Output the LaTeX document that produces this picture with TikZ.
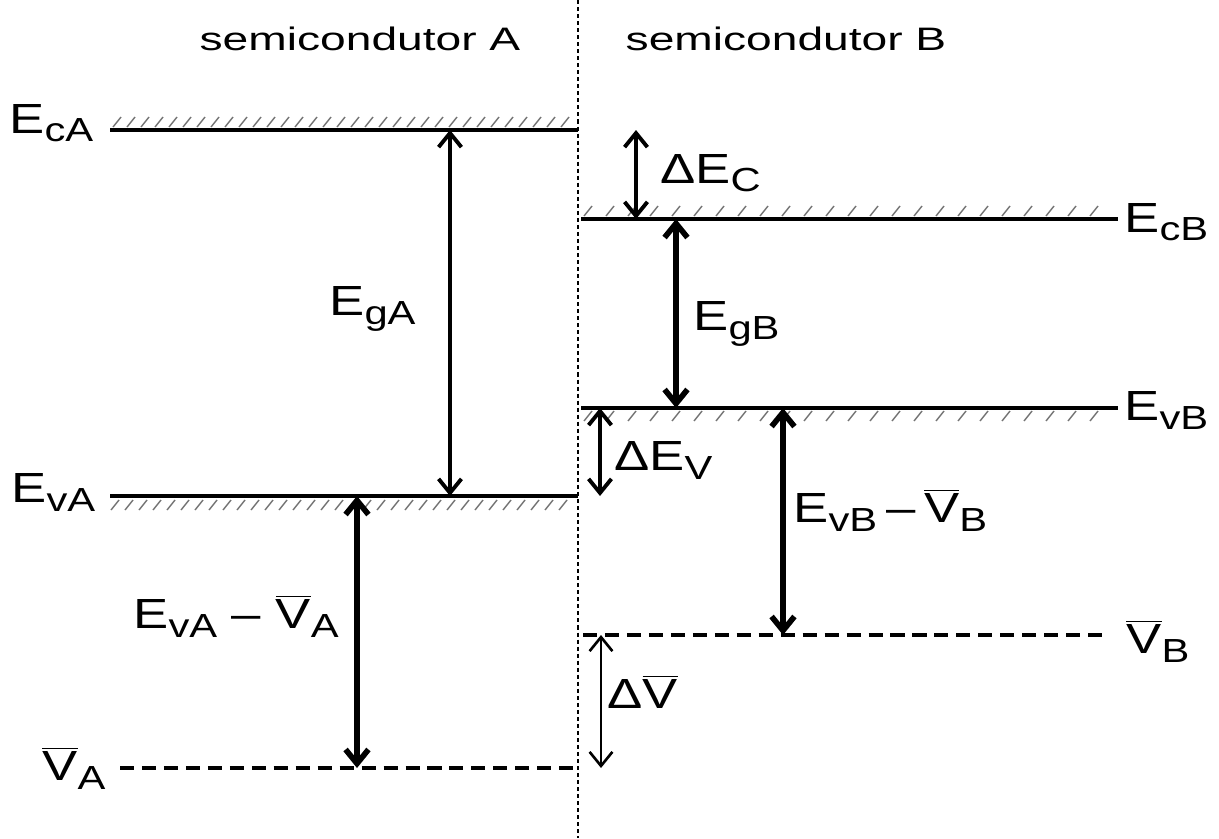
\documentclass[tikz,border=0pt]{standalone}
\usepackage{fontspec}
\setmainfont{Liberation Sans}
\usetikzlibrary{arrows.meta, calc}

\newcommand{\wtxt}[1]{\scalebox{1.25}[1]{\fontsize{24}{26}\selectfont #1}}
\newcommand{\htxt}[1]{\scalebox{1.42}[1]{\fontsize{18.5}{20}\selectfont #1}}
\newcommand{\lsub}[1]{\raisebox{-0.18cm}{\fontsize{19}{20}\selectfont #1}}
\newcommand{\Vb}{$\overline{\mbox{V}}$}

\begin{document}
\begin{tikzpicture}[x=0.02cm, y=-0.02cm,
    level/.style={line width=2.8pt, black},
    vlevel/.style={line width=2.8pt, black, dash pattern=on 8pt off 4.5pt},
    hatch/.style={line width=0.8pt, black!55},
    iface/.style={line width=0.6pt, black, dash pattern=on 2.3pt off 1.7pt},
    arr/.style={{Straight Barb[length=8pt,width=13pt]}-{Straight Barb[length=8pt,width=13pt]}, line width=#1},
    arr/.default=2.2pt,
    lbl/.style={inner sep=0pt, anchor=base west},
    head/.style={inner sep=0pt, anchor=base}
  ]
    \useasboundingbox (0,0) rectangle (1219,838);

    % interface
    \coordinate (jt) at (578,0);
    \coordinate (jb) at (578,838);
    \draw[iface] (jt) -- (jb);

    \node[head] (hA) at (360,51) {\htxt{semicondutor A}};
    \node[head] (hB) at (786,51) {\htxt{semicondutor B}};

    % semicondutor A
    \coordinate (EcAl) at (110,130); \coordinate (EcAr) at (578,130);
    \coordinate (EvAl) at (110,496); \coordinate (EvAr) at (578,496);
    \coordinate (VAl) at (120,768);  \coordinate (VAr) at (578,768);
    \foreach \x in {113,127,...,566} \draw[hatch] (\x,127) -- ++(8,-10);
    \foreach \x in {111,125,...,566} \draw[hatch] (\x,510) -- ++(8,-10);
    \draw[level] (EcAl) -- (EcAr);
    \draw[level] (EvAl) -- (EvAr);
    \draw[vlevel] (VAl) -- (VAr);

    % semicondutor B
    \coordinate (EcBl) at (581,219); \coordinate (EcBr) at (1118,219);
    \coordinate (EvBl) at (581,408); \coordinate (EvBr) at (1118,408);
    \coordinate (VBl) at (583,635);  \coordinate (VBr) at (1110,635);
    \foreach \x in {584,606,...,1106} \draw[hatch] (\x,216) -- ++(8,-10);
    \foreach \x in {584,606,...,1106} \draw[hatch] (\x,421) -- ++(8,-10);
    \draw[level] (EcBl) -- (EcBr);
    \draw[level] (EvBl) -- (EvBr);
    \draw[vlevel] (VBl) -- (VBr);

    % level names
    \node[lbl] (lEcA) at (9,133) {\wtxt{E\lsub{cA}}};
    \node[lbl] (lEvA) at (11,502) {\wtxt{E\lsub{vA}}};
    \node[lbl] (lVA) at (42,780) {\wtxt{\Vb\lsub{A}}};
    \node[lbl] (lEcB) at (1124,232) {\wtxt{E\lsub{cB}}};
    \node[lbl] (lEvB) at (1124,420) {\wtxt{E\lsub{vB}}};
    \node[lbl] (lVB) at (1126,653) {\wtxt{\Vb\lsub{B}}};

    % gaps and offsets
    \coordinate (gA) at (450,0);
    \coordinate (dEc) at (636,0);
    \coordinate (gB) at (676,0);
    \coordinate (dEv) at (600,0);
    \coordinate (vA) at (357,0);
    \coordinate (vB) at (783,0);
    \coordinate (dV) at (601,0);
    \draw[arr] (gA |- EcAl) -- (gA |- EvAl);
    \draw[arr] (dEc |- EcAl) -- (dEc |- EcBl);
    \draw[arr=3.2pt] (gB |- EcBl) -- (gB |- EvBl);
    \draw[arr] (dEv |- EvBl) -- (dEv |- EvAl);
    \draw[arr=3.2pt] (vA |- EvAl) -- (vA |- VAl);
    \draw[arr=3.2pt] (vB |- EvBl) -- (vB |- VBl);
    \draw[arr=1.5pt] (dV |- VBl) -- (dV |- VAl);

    \node[lbl] (lgA) at (329,315) {\wtxt{E\lsub{gA}}};
    \node[lbl] (lgB) at (693,330) {\wtxt{E\lsub{gB}}};
    \node[lbl] (lDEc) at (660,183) {\wtxt{ΔE\lsub{C}}};
    \node[lbl] (lDEv) at (614,470) {\wtxt{ΔE\lsub{V}}};
    \node[lbl] (lDV) at (607,708) {\wtxt{Δ\Vb}};
    \node[lbl] (lvA) at (133,628) {\wtxt{E\lsub{vA} – \Vb\lsub{A}}};
    \node[lbl] (lvB) at (793,522) {\wtxt{E\lsub{vB}\,–\,\Vb\lsub{B}}};
  \end{tikzpicture}
\end{document}
